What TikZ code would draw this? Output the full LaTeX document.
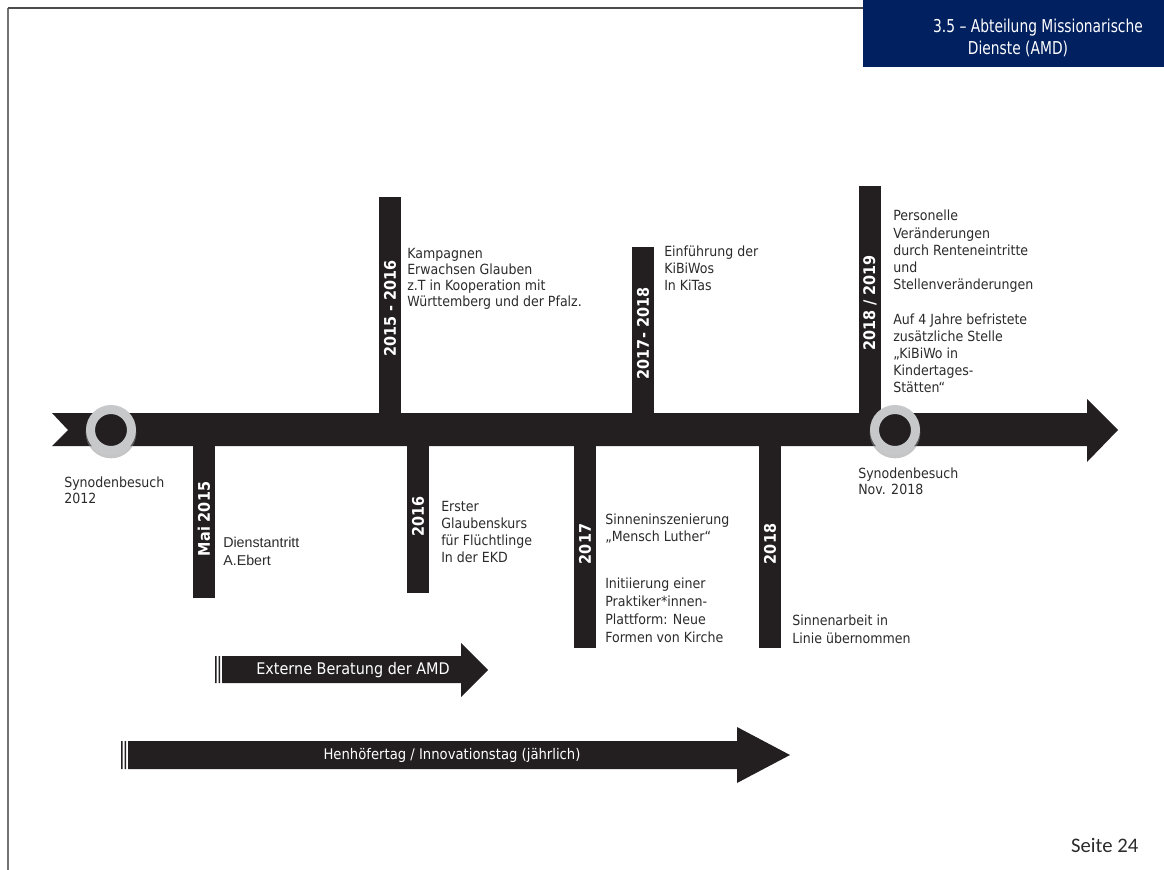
\documentclass[tikz,border=0pt]{standalone}
\usepackage{fontspec}
\setmainfont{DejaVu Sans}[FakeStretch=0.9]
\newfontfamily\arialfont{Liberation Sans}
\newfontfamily\titlefont{DejaVu Sans}[FakeStretch=0.78]
\newfontfamily\seitefont{Carlito}
\usetikzlibrary{positioning}

\definecolor{barblack}{HTML}{231F20}
\definecolor{ringgray}{HTML}{C7C8CA}
\definecolor{amdblue}{HTML}{002060}
\definecolor{txtgray}{HTML}{2B2B2B}

\tikzset{
  bar/.style={fill=barblack, text=white, inner sep=0pt, outer sep=0pt, rotate=90,
    minimum height=22*0.75pt, font=\bfseries\fontsize{12}{14}\selectfont},
  note/.style={text=txtgray, align=left, inner sep=0pt, anchor=north west,
    font=\fontsize{10.5}{12.75}\selectfont},
  ring/.style={circle, fill=barblack, draw=ringgray, line width=6.75pt,
    inner sep=0pt, minimum size=30.75pt},
  bandtext/.style={text=white, font=\fontsize{12}{14}\selectfont}
}

\begin{document}
\begin{tikzpicture}[x=0.75pt,y=-0.75pt]
\useasboundingbox (0,0) rectangle (1164,870);

% frame and title
\draw[black!55, line width=1.4pt] (8,870) -- (8,8);
\draw[black!70, line width=1.2pt] (8,8) -- (863,8);
\fill[amdblue] (863,0) rectangle (1164,67);
\node[text=white, font=\titlefont\fontsize{13.3}{15}\selectfont] (title1) at (1038,28) {3.5 – Abteilung Missionarische};
\node[text=white, font=\titlefont\fontsize{13.3}{15}\selectfont] (title2) at (1018,49) {Dienste (AMD)};

% main arrow
\fill[barblack] (52,413) -- (1087,413) -- (1087,399) -- (1118,430) -- (1087,462)
  -- (1087,446) -- (52,446) -- (68,430) -- cycle;

% year bars
\foreach \nm/\xc/\yt/\yb/\lab in {mai/204/440/598/Mai 2015, b16/418/440/593/2016,
    b1516/390/197/420/2015 - 2016, b1718/643/247/420/2017- 2018,
    b17/585/440/648/2017, b18/770/440/648/2018, b1819/870/186/420/{2018 / 2019}} {
  \node[bar, minimum width=(\yb-\yt)*0.75pt] (\nm) at (\xc,{(\yt+\yb)/2}) {\lab};
}

% synod visits
\foreach \nm/\xc in {syn12/111, syn18/895} {
  \fill[black!45, opacity=0.5] (\xc,433) circle[radius=19pt];
  \node[ring] (\nm) at (\xc,430) {};
}

% texts
\node[note, font=\fontsize{10.5}{12}\selectfont] (kamp) at (407,248) {Kampagnen\\Erwachsen Glauben\\z.T in Kooperation mit\\Württemberg und der Pfalz.};
\node[note] (kibi) at (664,246) {Einführung der\\KiBiWos\\In KiTas};
\node[note, font=\fontsize{10.5}{12.9}\selectfont] (pers) at (893,210) {Personelle\\Veränderungen\\durch Renteneintritte\\und\\Stellenveränderungen\\[12.9pt]Auf 4 Jahre befristete\\zusätzliche Stelle\\„KiBiWo in\\Kindertages-\\Stätten“};
\node[note] (erst) at (441,501) {Erster\\Glaubenskurs\\für Flüchtlinge\\In der EKD};
\node[note, font=\arialfont\fontsize{10.7}{13.2}\selectfont] (dienst) at (223,537) {Dienstantritt\\A.Ebert};
\node[note] (sinn) at (605,514) {Sinneninszenierung\\„Mensch Luther“};
\node[note, font=\fontsize{10.5}{13.3}\selectfont] (init) at (605,578) {Initiierung einer\\Praktiker*innen-\\Plattform: Neue\\Formen von Kirche};
\node[note, font=\fontsize{10.5}{13.3}\selectfont] (arb) at (792,615) {Sinnenarbeit in\\Linie übernommen};
\node[note, font=\fontsize{10.5}{11.5}\selectfont] (syn12t) at (64,477) {Synodenbesuch\\2012};
\node[note, font=\fontsize{10.5}{12}\selectfont] (syn18t) at (858,468) {Synodenbesuch\\Nov. 2018};

% running arrows
\fill[barblack] (215,656) rectangle (216.5,683) (218.5,656) rectangle (220,683);
\fill[barblack] (222,656) -- (461,656) -- (461,643) -- (488,670) -- (461,697) -- (461,683) -- (222,683) -- cycle;
\node[bandtext] (ext) at (353,670) {Externe Beratung der AMD};
\fill[barblack] (121,741) rectangle (122.5,769) (124.5,741) rectangle (126,769);
\fill[barblack] (128,741) -- (737,741) -- (737,727) -- (790,755) -- (737,783) -- (737,769) -- (128,769) -- cycle;
\node[bandtext, font=\fontsize{11}{13}\selectfont] (henh) at (452,755) {Henhöfertag / Innovationstag (jährlich)};

\node[text=txtgray, font=\seitefont\fontsize{15.5}{18}\selectfont, anchor=east] (seite) at (1143,845) {Seite 24};
\end{tikzpicture}
\end{document}
